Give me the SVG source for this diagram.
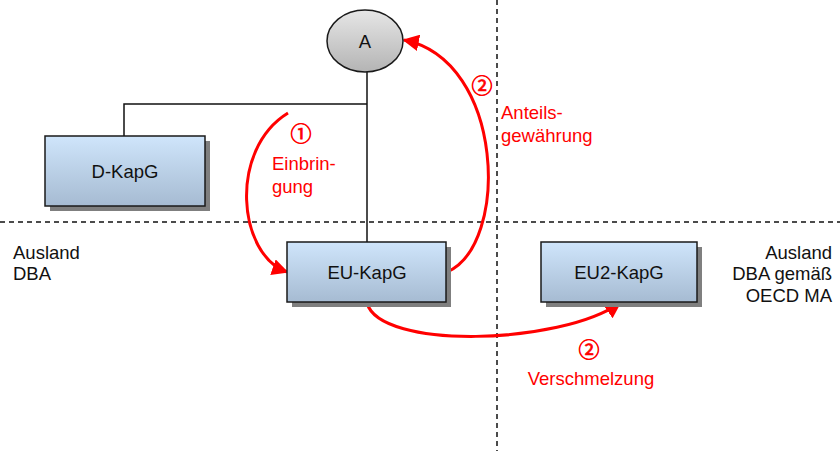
<svg xmlns="http://www.w3.org/2000/svg" width="840" height="451" viewBox="0 0 840 451">
  <defs>
    <linearGradient id="boxFill" x1="0" y1="0" x2="0" y2="1">
      <stop offset="0" stop-color="#cfe5fb"/>
      <stop offset="1" stop-color="#a6bbd2"/>
    </linearGradient>
    <linearGradient id="ovalFill" x1="0" y1="0" x2="0" y2="1">
      <stop offset="0" stop-color="#e6e6e6"/>
      <stop offset="1" stop-color="#b4b4b4"/>
    </linearGradient>
    <marker id="redHead" viewBox="0 0 10 10" refX="9" refY="5" markerWidth="5.5" markerHeight="5.5" orient="auto" markerUnits="strokeWidth">
      <path d="M0,0 L10,5 L0,10 z" fill="#ff0000"/>
    </marker>
    <style>
      .box { fill: url(#boxFill); stroke: #1a1a1a; stroke-width: 1.5; }
      .shadow { fill: #7f7f7f; }
      .lbl { font-family: "Liberation Sans", Arial, sans-serif; font-size: 18.5px; fill: #111; }
      .red { font-family: "Liberation Sans", Arial, sans-serif; font-size: 18.5px; fill: #ff0000; }
      .num { font-family: "Noto Sans CJK JP", "DejaVu Sans", sans-serif; font-size: 21px; fill: #ff0000; stroke: #ff0000; stroke-width: 0.7; }
      .tie { stroke: #111; stroke-width: 1.5; fill: none; }
      .border { stroke: #111; stroke-width: 1.5; stroke-dasharray: 5 4; fill: none; }
      .flow { stroke: #ff0000; stroke-width: 3; fill: none; marker-end: url(#redHead); }
    </style>
  </defs>

  <!-- jurisdiction borders -->
  <g id="borders">
    <line class="border" x1="0" y1="222" x2="840" y2="222"/>
    <line class="border" x1="497" y1="0" x2="497" y2="451"/>
  </g>

  <!-- ownership ties -->
  <g id="ties">
    <line class="tie" x1="367" y1="72" x2="367" y2="242"/>
    <polyline class="tie" points="367,104 124,104 124,136"/>
  </g>

  <!-- transactions -->
  <g id="connectors">
    <path class="flow" d="M 288 113 C 228 150, 238 255, 287 272"/>
    <path class="flow" d="M 447 272 C 510 245, 505 60, 404 40"/>
    <path class="flow" d="M 367 303 C 380 350, 560 345, 620 303"/>
  </g>

  <g id="node-A">
    <ellipse cx="365" cy="41" rx="38" ry="31" fill="url(#ovalFill)" stroke="#1a1a1a" stroke-width="1.5"/>
    <text class="lbl" x="365" y="48" text-anchor="middle" font-size="20">A</text>
  </g>

  <g id="node-D-KapG">
    <rect class="shadow" x="50" y="141" width="160" height="70"/>
    <rect class="box" x="45" y="136" width="160" height="70"/>
    <text class="lbl" x="125" y="178" text-anchor="middle">D-KapG</text>
  </g>

  <g id="node-EU-KapG">
    <rect class="shadow" x="292" y="247" width="159" height="60"/>
    <rect class="box" x="287" y="242" width="159" height="60"/>
    <text class="lbl" x="367" y="279" text-anchor="middle">EU-KapG</text>
  </g>

  <g id="node-EU2-KapG">
    <rect class="shadow" x="546" y="247" width="156" height="60"/>
    <rect class="box" x="541" y="242" width="156" height="60"/>
    <text class="lbl" x="619" y="279" text-anchor="middle">EU2-KapG</text>
  </g>

  <!-- region labels -->
  <g id="labels">
    <text class="lbl" x="13" y="259">Ausland</text>
    <text class="lbl" x="13" y="280">DBA</text>
    <text class="lbl" x="832" y="259" text-anchor="end">Ausland</text>
    <text class="lbl" x="832" y="280" text-anchor="end">DBA gemäß</text>
    <text class="lbl" x="832" y="302" text-anchor="end">OECD MA</text>

    <text class="num" x="301" y="141" text-anchor="middle">①</text>
    <text class="red" x="272" y="170">Einbrin-</text>
    <text class="red" x="272" y="193">gung</text>

    <text class="num" x="482" y="93" text-anchor="middle">②</text>
    <text class="red" x="501" y="119">Anteils-</text>
    <text class="red" x="501" y="142">gewährung</text>

    <text class="num" x="589" y="357" text-anchor="middle">②</text>
    <text class="red" x="591" y="385" text-anchor="middle">Verschmelzung</text>
  </g>
</svg>
